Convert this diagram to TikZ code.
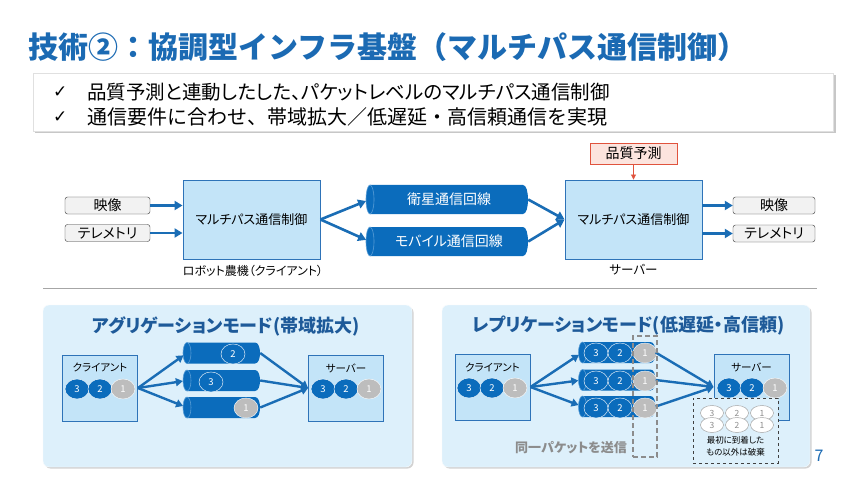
\documentclass[tikz,border=0pt]{standalone}
\usepackage{fontspec}
\setmainfont{Noto Sans CJK JP}[RawFeature=+palt]
\newfontfamily\jpfull{Noto Sans CJK JP}
\newfontfamily\dejavu{DejaVu Sans}
\usetikzlibrary{shapes.geometric,shadows,arrows.meta}
\definecolor{titleblue}{HTML}{1B6AB3}
\definecolor{pipeblue}{HTML}{0B6CBC}
\definecolor{pipeedge}{HTML}{5A9ED6}
\definecolor{arrowblue}{HTML}{1A6DB5}
\definecolor{boxfill}{HTML}{C3E4F8}
\definecolor{boxborder}{HTML}{2E73B8}
\definecolor{panelfill}{HTML}{DDF0FB}
\definecolor{paneltitle}{HTML}{1E5A99}
\definecolor{pkgray}{HTML}{BDBDBD}
\definecolor{qfill}{HTML}{FCE4DE}
\definecolor{qred}{HTML}{E0533D}
\definecolor{sepgray}{HTML}{A6A6A6}
\tikzset{
  fs/.style={font=\fontsize{#1}{#1}\selectfont},
  iobox/.style={draw=black!80, fill=black!5, rounded corners=2.5pt, minimum width=85, minimum height=17, inner sep=0, fs=14},
  mainbox/.style={draw=boxborder, fill=boxfill, line width=0.9pt, minimum width=137, minimum height=79, inner sep=0, fs=13},
  smallbox/.style={draw=boxborder, fill=boxfill, line width=0.9pt, minimum width=75, minimum height=66, inner sep=0},
  arr/.style={draw=arrowblue, line width=2.6pt, -{Triangle[length=8pt,width=9pt]}},
  sarr/.style={draw=arrowblue, line width=2.4pt, -{Triangle[length=7pt,width=8pt]}},
  pk/.style={ellipse, fill=pipeblue, draw=white, line width=0.4pt, minimum width=24, minimum height=20, inner sep=0, text=white, fs=9.5},
  pkg/.style={pk, fill=pkgray},
  pkw/.style={ellipse, fill=white, draw=black!35, line width=0.5pt, minimum width=23, minimum height=15, inner sep=0, text=black!45, fs=8.5},
  pipetext/.style={inner sep=0, text=white, fs=14},
  panel/.style={fill=panelfill, draw=white!80!panelfill, rounded corners=6pt, drop shadow={opacity=0.35, shadow xshift=1.5pt, shadow yshift=-1.5pt}},
  lbl/.style={inner sep=0, fs=11.5},
}
% \pipe{name}{cx}{cy}{w}{h}{text}
\newcommand\pipe[6]{%
  \fill[pipeblue] ({#2-#4/2},{#3-#5/2}) -- ({#2+#4/2-5},{#3-#5/2})
     .. controls ({#2+#4/2+1.7},{#3-#5/2}) and ({#2+#4/2+1.7},{#3+#5/2}) .. ({#2+#4/2-5},{#3+#5/2})
     -- ({#2-#4/2},{#3+#5/2}) -- cycle;
  \draw[pipeedge, fill=pipeblue, line width=0.6pt] ({#2-#4/2},#3) ellipse [x radius=4, y radius=#5/2];
  \node[pipetext, minimum width=#4, minimum height=#5] (#1) at (#2,#3) {#6};}
\begin{document}
\begin{tikzpicture}[x=1pt,y=-1pt]
\useasboundingbox[fill=white] (0,0) rectangle (860,484);
% title
\node[anchor=west, inner sep=0, text=titleblue, font=\fontsize{30}{30}\selectfont\jpfull\bfseries] (title) at (28,47) {技術②：協調型インフラ基盤（マルチパス通信制御）};
% bullet box
\fill[black!22] (35,75) rectangle (836,133);
\node[draw=black!12, fill=white, minimum width=800, minimum height=58, inner sep=0] (bullets) at (433,102) {};
\node[anchor=west, inner sep=0, fs=17] (ck1) at (53,92) {\dejavu ✓};
\node[anchor=west, inner sep=0, fs=19.5] (b1) at (87,92) {品質予測と連動したした、パケットレベルのマルチパス通信制御};
\node[anchor=west, inner sep=0, fs=17] (ck2) at (53,117) {\dejavu ✓};
\node[anchor=west, inner sep=0, font=\fontsize{20}{20}\selectfont\jpfull] (b2) at (87,117) {通信要件に合わせ、帯域拡大／低遅延・高信頼通信を実現};
% top diagram
\node[iobox] (vidL) at (107.5,205.5) {映像};
\node[iobox] (telL) at (107.5,233) {テレメトリ};
\node[mainbox] (cli) at (251.5,219.5) {マルチパス通信制御};
\node[lbl, fs=12] (clilbl) at (253,270.5) {ロボット農機（クライアント）};
\pipe{sat}{449}{199.5}{158}{29}{衛星通信回線}
\pipe{mob}{449}{241.5}{158}{29}{モバイル通信回線}
\node[mainbox] (srv) at (633.5,219.5) {マルチパス通信制御};
\node[lbl, fs=12.5] (srvlbl) at (633.5,269.5) {サーバー};
\node[draw=qred, fill=qfill, minimum width=87, minimum height=21, inner sep=0, fs=14] (qp) at (633.5,153.5) {品質予測};
\node[iobox, minimum width=82] (vidR) at (774,205.5) {映像};
\node[iobox, minimum width=82] (telR) at (774,233.5) {テレメトリ};
\draw[arr] (vidL.east) -- (cli.west |- vidL.east);
\draw[arr] (telL.east) -- (cli.west |- telL.east);
\draw[arr, shorten >=4pt] (cli.east) -- (sat.west);
\draw[arr, shorten >=4pt] (cli.east) -- (mob.west);
\draw[arr] (sat.east) -- (srv.west);
\draw[arr] (mob.east) -- (srv.west);
\draw[arr] (srv.east |- vidR.west) -- (vidR.west);
\draw[arr] (srv.east |- telR.west) -- (telR.west);
\draw[draw=qred, line width=0.8pt, -{Triangle[length=5pt,width=5pt]}] (qp.south) -- (srv.north);
\coordinate (sepL) at (43,288.5);
\coordinate (sepR) at (817,288.5);
\draw[sepgray, line width=1.6pt] (sepL) -- (sepR);
% aggregation panel
\path[panel] (43,305) rectangle (412,467);
\node[inner sep=0, text=paneltitle, font=\fontsize{18}{18}\selectfont\bfseries] (aggt) at (226,326) {アグリゲーションモード(帯域拡大)};
\node[smallbox] (acli) at (100,388) {};
\node[lbl, fs=10.5] at (100,367) {クライアント};
\node[pk] (ac3) at (77,389) {3};
\node[pk] (ac2) at (100,389) {2};
\node[pkg] (ac1) at (123,389) {1};
\pipe{ap1}{223.5}{353}{73}{21}{}
\pipe{ap2}{223.5}{380.5}{73}{21}{}
\pipe{ap3}{223.5}{407.5}{73}{21}{}
\node[pk] at (233,354) {2};
\node[pk] at (211,382) {3};
\node[pkg] at (246,408) {1};
\node[smallbox] (asrv) at (346,388) {};
\node[lbl, fs=10.5] at (346,368) {サーバー};
\node[pk] (as3) at (323,389) {3};
\node[pk] (as2) at (346,389) {2};
\node[pkg] (as1) at (369,389) {1};
\draw[sarr, shorten >=4pt] (acli.east) -- (ap1.west);
\draw[sarr, shorten >=4pt] (acli.east) -- (ap2.west);
\draw[sarr, shorten >=4pt] (acli.east) -- (ap3.west);
\draw[sarr] (ap1.east) -- (asrv.west);
\draw[sarr] (ap2.east) -- (asrv.west);
\draw[sarr] (ap3.east) -- (asrv.west);
% replication panel
\path[panel] (442,305) rectangle (810,467);
\node[inner sep=0, text=paneltitle, font=\fontsize{18}{18}\selectfont\bfseries] (rept) at (628,326) {レプリケーションモード(低遅延・高信頼)};
\node[smallbox] (rcli) at (492.5,387) {};
\node[lbl, fs=10.5] at (492.5,367) {クライアント};
\node[pk] (rc3) at (469,388) {3};
\node[pk] (rc2) at (492,388) {2};
\node[pkg] (rc1) at (515,388) {1};
\pipe{rp1}{619}{352.5}{73}{21}{}
\pipe{rp2}{619}{380}{73}{21}{}
\pipe{rp3}{619}{406.5}{73}{21}{}
\foreach \yy in {353,381,408}{
  \node[pk] at (596,\yy) {3};
  \node[pk] at (620,\yy) {2};
  \node[pkg] at (645,\yy) {1};
}
\node[smallbox] (rsrv) at (751.5,387) {};
\node[lbl, fs=10.5] at (751.5,367) {サーバー};
\node[pk] (rs3) at (729,388) {3};
\node[pk] (rs2) at (752,388) {2};
\node[pkg] (rs1) at (775,388) {1};
\draw[sarr, shorten >=4pt] (rcli.east) -- (rp1.west);
\draw[sarr, shorten >=4pt] (rcli.east) -- (rp2.west);
\draw[sarr, shorten >=4pt] (rcli.east) -- (rp3.west);
\draw[sarr] (rp1.east) -- (rsrv.west);
\draw[sarr] (rp2.east) -- (rsrv.west);
\draw[sarr] (rp3.east) -- (rsrv.west);
\node[draw=black!45, line width=1.6pt, dash pattern=on 5pt off 3pt, minimum width=24, minimum height=121, inner sep=0] (same) at (645,396.5) {};
\node[inner sep=0, text=black!45, font=\fontsize{13}{13}\selectfont\bfseries] (samelbl) at (571,448) {同一パケットを送信};
\node[draw=black!75, dashed, line width=0.8pt, fill=panelfill, minimum width=85, minimum height=65, inner sep=0] (drop) at (735.5,430.5) {};
\foreach \xx/\tt in {712/3,737/2,762/1}{
  \node[pkw] at (\xx,413) {\tt};
}
\foreach \xx/\tt in {712/3,737/2,762/1}{
  \node[pkw] at (\xx,425) {\tt};
}
\node[inner sep=0, align=center, font=\fontsize{8.5}{12}\selectfont] (droplbl) at (735.5,446) {最初に到着した\\もの以外は破棄};
\node[inner sep=0, text=titleblue, fs=16] (pg) at (819,456) {7};
\end{tikzpicture}
\end{document}
